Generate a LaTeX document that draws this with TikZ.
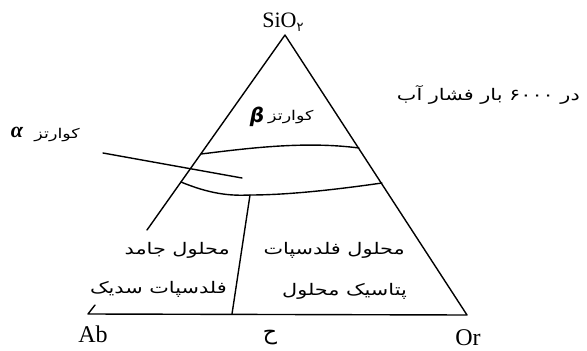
\documentclass[tikz,border=0pt]{standalone}
\usepackage{fontspec}
\setmainfont{Liberation Serif}
\newfontfamily\arabicfont[Script=Arabic,FakeStretch=1.3]{DejaVu Sans}
\newfontfamily\arabicplain[Script=Arabic]{DejaVu Sans}
\newfontfamily\greeksans{DejaVu Sans}
\TeXXeTstate=1
\begin{document}
\begin{tikzpicture}[x=1pt,y=-1pt,
  fa/.style={font=\arabicfont\fontsize{16}{18}\selectfont, inner sep=0pt},
  fasmall/.style={font=\arabicfont\fontsize{13.5}{15}\selectfont, inner sep=0pt},
  lat/.style={font=\fontsize{22}{24}\selectfont, inner sep=0pt},
  latbig/.style={font=\fontsize{24}{26}\selectfont, inner sep=0pt},
  edge/.style={line width=1.4pt, line cap=round, line join=round}]
\useasboundingbox (0,0) rectangle (587,351);
% geometry
\coordinate (A) at (285,35);
\coordinate (B) at (88,314);
\coordinate (C) at (467,315);
\coordinate (L1) at (147,230);
\coordinate (Bt) at (95,305);
\coordinate (U1) at (201,154);
\coordinate (U2) at (359,148);
\coordinate (W1) at (181,182);
\coordinate (W2) at (382,183);
\coordinate (D1) at (250,195);
\coordinate (D2) at (232,314);
\coordinate (P1) at (103,153);
\coordinate (P2) at (242,178);
% lines
\draw[edge] (L1) -- (A) -- (C) -- (B) -- (Bt);
\draw[edge] (U1) .. controls (250,148) and (305,141) .. (U2);
\draw[edge] (W1) .. controls (210,194) and (230,196) .. (D1)
            .. controls (290,195) and (340,189) .. (W2);
\draw[edge] (D1) -- (D2);
\draw[edge] (P1) -- (P2);
% labels
\node[lat] (sio) at (283,22) {SiO\raisebox{-0.35ex}{\arabicplain\fontsize{13}{14}\selectfont ۲}};
\node[latbig] (ab) at (93,334) {Ab};
\node[latbig] (or) at (468,338) {Or};
\node[inner sep=0pt, font=\arabicplain\fontsize{22}{24}\selectfont] (h) at (270,338) {ح};
\node[inner sep=0pt, font=\greeksans\fontsize{20}{22}\selectfont\bfseries\itshape] (beta) at (257,117) {β};
\node[fasmall, anchor=west] (kb) at (268,117) {\beginR کوارتز\endR};
\node[inner sep=0pt, font=\fontsize{22}{24}\selectfont\bfseries\itshape] (alpha) at (17,132) {α};
\node[fasmall, anchor=east] (ka) at (80,135) {\beginR کوارتز\endR};
\node[fa, anchor=east] (tr) at (580,95) {\beginR در \beginL ۶۰۰۰\endL{} بار فشار آب\endR};
\node[fa, anchor=east] (t1) at (230,250) {\beginR محلول جامد\endR};
\node[fa, anchor=east] (t2) at (227,289) {\beginR فلدسپات سدیک\endR};
\node[fa, anchor=east] (t3) at (405,250) {\beginR محلول فلدسپات\endR};
\node[fa, anchor=east] (t4) at (407,291) {\beginR پتاسیک محلول\endR};
\end{tikzpicture}
\end{document}
